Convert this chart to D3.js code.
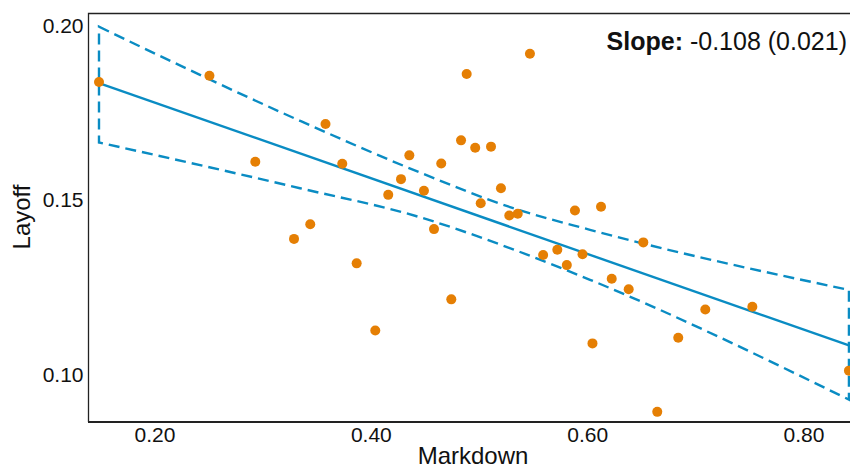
<!DOCTYPE html>
<html>
<head>
<meta charset="utf-8">
<script src="https://cdn.jsdelivr.net/npm/d3@7"></script>
<style>
  body { margin: 0; background: #fff; }
  text { font-family: Arial, "Liberation Sans", Helvetica, sans-serif; fill: #111; }
</style>
</head>
<body>
<div id="chart"></div>
<script>
// Data
const markdown = [0.1487, 0.2508, 0.2932, 0.3290, 0.3440, 0.3581, 0.3736, 0.3869, 0.4041, 0.4161,
  0.4279, 0.4356, 0.4491, 0.4584, 0.4651, 0.4744, 0.4834, 0.4886, 0.4965, 0.5016,
  0.5111, 0.5203, 0.5280, 0.5358, 0.5471, 0.5593, 0.5724, 0.5812, 0.5887, 0.5957,
  0.6049, 0.6128, 0.6227, 0.6384, 0.6519, 0.6648, 0.6842, 0.7092, 0.7527, 0.8420];
const layoff = [0.1838, 0.1856, 0.1610, 0.1389, 0.1431, 0.1718, 0.1604, 0.1319, 0.1127, 0.1515,
  0.1560, 0.1628, 0.1527, 0.1417, 0.1605, 0.1216, 0.1671, 0.1861, 0.1650, 0.1491,
  0.1653, 0.1534, 0.1456, 0.1461, 0.1919, 0.1343, 0.1358, 0.1314, 0.1470, 0.1345,
  0.1090, 0.1481, 0.1275, 0.1245, 0.1379, 0.0894, 0.1106, 0.1187, 0.1195, 0.1012];

// fitted line end points and confidence band samples
const fitX = [0.1487, 0.8420];
const fitY = [0.1835, 0.1084];
const bandX = [0.1487, 0.3345, 0.4454, 0.5316, 0.6026, 0.8420];
const bandUpper = [0.1996, 0.1727, 0.1579, 0.1477, 0.1415, 0.1243];
const bandLower = [0.1665, 0.1534, 0.1451, 0.1359, 0.1272, 0.0929];

const xTicks = [0.20, 0.40, 0.60, 0.80];
const yTicks = [0.10, 0.15, 0.20];
const slopeText = { label: "Slope:", value: " -0.108 (0.021)" };

const width = 850, height = 468;
const margin = { top: 13.5, right: -1, bottom: 46, left: 88.5 };

const blue = "#0a8cc3";
const orange = "#e57f04";

const svg = d3.select("#chart")
  .append("svg")
  .attr("width", width)
  .attr("height", height);

const x = d3.scaleLinear()
  .domain([0.139, 0.8439])
  .range([margin.left, width - margin.right]);

const y = d3.scaleLinear()
  .domain([0.0865, 0.2034])
  .range([height - margin.bottom, margin.top]);

// frame (right side runs off the page)
svg.append("path")
  .attr("d", `M${width + 5},${margin.top}H${margin.left}V${height - margin.bottom}`)
  .attr("fill", "none")
  .attr("stroke", "#222")
  .attr("stroke-width", 1.3);
svg.append("line")
  .attr("x1", margin.left - 0.5).attr("x2", width + 5)
  .attr("y1", height - margin.bottom).attr("y2", height - margin.bottom)
  .attr("stroke", "#222")
  .attr("stroke-width", 2.2);

// X axis labels
const xAxis = svg.append("g")
  .attr("transform", `translate(0, ${height - margin.bottom})`)
  .call(d3.axisBottom(x).tickValues(xTicks).tickFormat(d3.format(".2f")).tickSize(0).tickPadding(5));
xAxis.select(".domain").remove();
xAxis.selectAll("text")
  .attr("font-size", 21)
  .attr("fill", "#111")
  .style("font-family", "Arial, 'Liberation Sans', sans-serif");

// Y axis labels
const yAxis = svg.append("g")
  .attr("transform", `translate(${margin.left}, 0)`)
  .call(d3.axisLeft(y).tickValues(yTicks).tickFormat(d3.format(".2f")).tickSize(0).tickPadding(5));
yAxis.select(".domain").remove();
yAxis.selectAll("text")
  .attr("font-size", 21)
  .attr("fill", "#111")
  .style("font-family", "Arial, 'Liberation Sans', sans-serif");

// axis titles
svg.append("text")
  .attr("x", 473)
  .attr("y", 464)
  .attr("text-anchor", "middle")
  .attr("font-size", 24)
  .text("Markdown");

svg.append("text")
  .attr("transform", `translate(30, 217) rotate(-90)`)
  .attr("text-anchor", "middle")
  .attr("font-size", 24)
  .text("Layoff");

// confidence band, dashed outline: upper left->right, then lower right->left
const smooth = d3.line().curve(d3.curveMonotoneX);
const upperPath = smooth(bandX.map((d, i) => [x(d), y(bandUpper[i])]));
const lowerRev = bandX.map((d, i) => [x(d), y(bandLower[i])]).reverse();
const lowerPath = smooth(lowerRev);
svg.append("path")
  .attr("d", upperPath + "L" + lowerPath.slice(1) + "Z")
  .attr("fill", "none")
  .attr("stroke", blue)
  .attr("stroke-width", 2.4)
  .attr("stroke-dasharray", "11,6");

// fitted line
svg.append("line")
  .attr("x1", x(fitX[0])).attr("y1", y(fitY[0]))
  .attr("x2", x(fitX[1])).attr("y2", y(fitY[1]))
  .attr("stroke", blue)
  .attr("stroke-width", 2.4);

// points
const points = markdown.map((d, i) => ({ x: d, y: layoff[i] }));
svg.append("g")
  .selectAll("circle")
  .data(points)
  .join("circle")
  .attr("cx", d => x(d.x))
  .attr("cy", d => y(d.y))
  .attr("r", 5)
  .attr("fill", orange);

// slope annotation
const note = svg.append("text")
  .attr("x", 847)
  .attr("y", 50)
  .attr("text-anchor", "end")
  .attr("font-size", 25);
note.append("tspan").attr("font-weight", "bold").text(slopeText.label);
note.append("tspan").text(slopeText.value);
</script>
</body>
</html>
